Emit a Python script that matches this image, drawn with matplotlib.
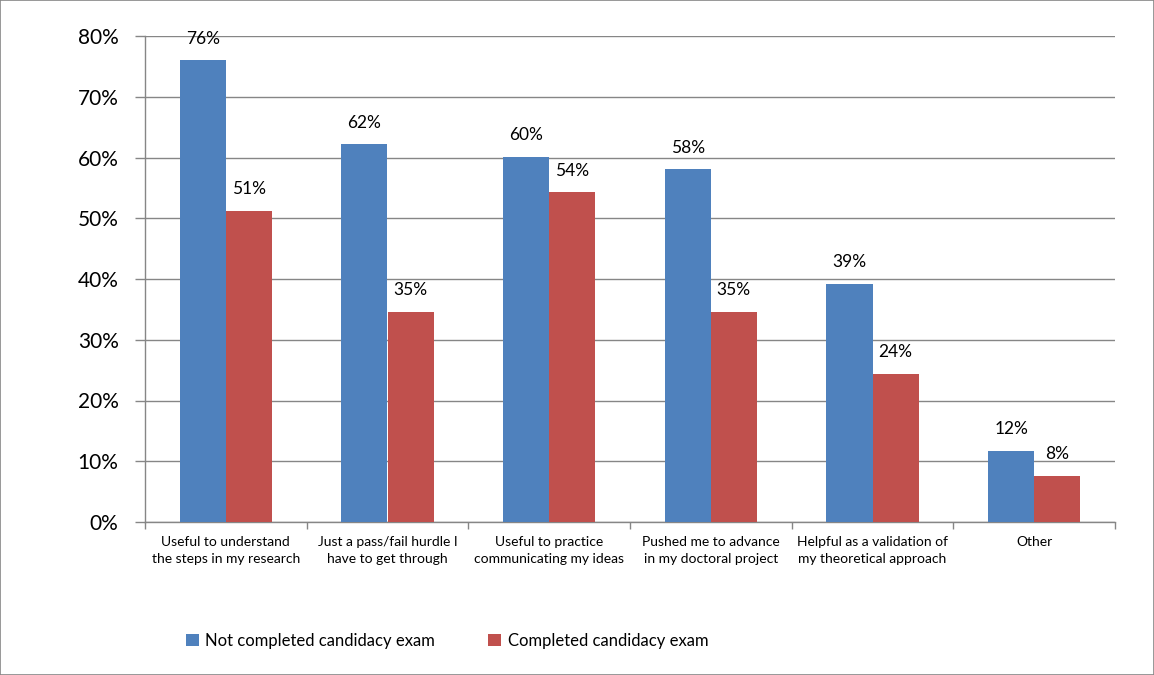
import matplotlib
matplotlib.use("Agg")
import matplotlib.pyplot as plt
import numpy as np
from matplotlib.patches import Rectangle

categories = ["Useful to understand\nthe steps in my research",
              "Just a pass/fail hurdle I\nhave to get through",
              "Useful to practice\ncommunicating my ideas",
              "Pushed me to advance\nin my doctoral project",
              "Helpful as a validation of\nmy theoretical approach",
              "Other"]
not_completed = [76.0, 62.2, 60.1, 58.1, 39.2, 11.7]
completed = [51.2, 34.6, 54.3, 34.6, 24.4, 7.6]
series_names = ["Not completed candidacy exam", "Completed candidacy exam"]
yticks = [0, 10, 20, 30, 40, 50, 60, 70, 80]

blue = "#4F81BD"
red = "#C0504D"
grid_c = "#868686"
font = "Lato"

fig = plt.figure(figsize=(11.54, 6.75), dpi=100)
fig.patches.append(Rectangle((0, 0), 1, 1, transform=fig.transFigure, fill=False,
                             edgecolor="#868686", linewidth=1.2, zorder=10))
ax = fig.add_axes([145/1154, 1-522/675, 970/1154, (522-36)/675])

x = np.arange(len(categories))
w = 0.285
b1 = ax.bar(x - w/2, not_completed, w, color=blue, label=series_names[0], zorder=3)
b2 = ax.bar(x + w/2, completed, w, color=red, label=series_names[1], zorder=3)

for bars, vals in ((b1, not_completed), (b2, completed)):
    for r, v in zip(bars, vals):
        ax.annotate(f"{round(v):d}%", (r.get_x() + r.get_width()/2, v),
                    xytext=(0, 15.5), textcoords="offset points", ha="center", va="center",
                    fontsize=12.5, family=font, color="black", zorder=5)

ax.set_xlim(-0.5, len(categories) - 0.5)
ax.set_ylim(0, 80)
ax.set_yticks(yticks)
ax.set_yticklabels([f"{t}%" for t in yticks], fontsize=15, family=font)
ax.yaxis.grid(True, color=grid_c, linewidth=1.0, zorder=0)
ax.set_axisbelow(True)

ax.set_xticks(x)
ax.set_xticklabels(categories, fontsize=10, family=font, linespacing=1.55)
ax.set_xticks(np.arange(len(categories) + 1) - 0.5, minor=True)
ax.tick_params(axis="x", which="major", length=0, pad=10)
ax.tick_params(axis="x", which="minor", length=5, color=grid_c, width=1)
ax.tick_params(axis="y", length=7, color=grid_c, width=1, pad=12)

for s in ("top", "right"):
    ax.spines[s].set_visible(False)
for s in ("left", "bottom"):
    ax.spines[s].set_color(grid_c)
    ax.spines[s].set_linewidth(1.0)

leg = fig.legend(handles=[b1, b2], labels=series_names, loc="center left",
                 bbox_to_anchor=(186/1154, 1-641/675), ncol=2, frameon=False,
                 prop={"family": font, "size": 12}, handlelength=0.75, handleheight=0.75,
                 handletextpad=0.4, columnspacing=3.2, borderpad=0, borderaxespad=0)

fig.savefig("out.png", dpi=100)
